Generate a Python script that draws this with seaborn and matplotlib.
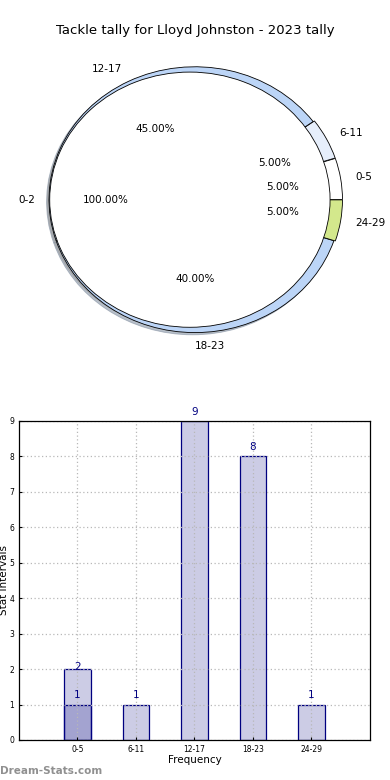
import numpy as np
import pandas as pd
import seaborn as sns
from matplotlib import pyplot as plt

# data
title = "Tackle tally for Lloyd Johnston - 2023 tally"
categories = ["0-5", "6-11", "12-17", "18-23", "24-29"]
counts = [1, 1, 9, 8, 1]
wedge_colors = ["#ffffff", "#e6eefb", "#bcd5f7", "#bcd5f7", "#d3e88c"]
inner_labels = ["0-2"]
inner_counts = [1]
overlay_categories = ["0-5"]
overlay_counts = [2]

plt.rcParams["font.family"] = ["DejaVu Sans"]

fig = plt.figure(figsize=(3.9, 7.8), dpi=100)

# ---- pie (outer ring + exploded inner disc) ----
ax1 = fig.add_axes([0.032, 0.531, 0.936, 0.426])
wedges, _, _ = ax1.pie(
    counts, labels=categories, colors=wedge_colors, autopct="%.2f%%",
    pctdistance=0.6, labeldistance=1.1, startangle=0,
    shadow={"ox": -0.012, "oy": -0.012, "shade": 0.4},
    explode=[0.01, 0.01, 0, 0, 0.01],
    wedgeprops={"edgecolor": "black", "linewidth": 0.6},
    textprops={"fontsize": 7.5},
)
ax1.pie(
    inner_counts, labels=inner_labels, colors=["white"], autopct="%.2f%%",
    pctdistance=0.6, labeldistance=1.1, radius=0.96, explode=[0.035],
    shadow={"ox": -0.012, "oy": -0.012, "shade": 0.4},
    wedgeprops={"edgecolor": "black", "linewidth": 0.6},
    textprops={"fontsize": 7.5},
)
ax1.set_aspect("auto")
ax1.set_xlim(-1.25, 1.25)
ax1.set_ylim(-1.25, 1.25)
fig.text(0.5, 0.9615, title, ha="center", va="center", fontsize=9.5)

# ---- bars ----
ax2 = fig.add_axes([0.0487, 0.0513, 0.9, 0.409])
df = pd.DataFrame({"cat": categories, "n": counts})
df2 = pd.DataFrame({"cat": overlay_categories, "n": overlay_counts})
sns.barplot(data=df, x="cat", y="n", order=categories, width=0.45,
            color="navy", linewidth=0.9, saturation=1, ax=ax2)
sns.barplot(data=df2, x="cat", y="n", order=categories, width=0.45,
            color="navy", linewidth=0.9, saturation=1, ax=ax2)
# translucent fill, opaque edge
for p in ax2.patches:
    p.set_alpha(None)
    p.set_facecolor((0, 0, 0.5, 0.2))
    p.set_edgecolor((0, 0, 0.5, 1))

for c, v in zip(categories, counts):
    ax2.annotate(str(v), (categories.index(c), v), xytext=(0, 3),
                 textcoords="offset points", ha="center", va="bottom",
                 fontsize=7.5, color="navy")
for c, v in zip(overlay_categories, overlay_counts):
    ax2.annotate(str(v), (categories.index(c), v), xytext=(0, 1.5),
                 textcoords="offset points", ha="center", va="center",
                 fontsize=7.5, color="navy")

ax2.set_xlim(-1, 5)
ax2.set_ylim(0, 9)
ax2.set_yticks(range(10))
ax2.set_axisbelow(False)
ax2.grid(True, color="#b8b8b8", linestyle=(0, (1, 2)), linewidth=0.9)
ax2.tick_params(labelsize=5.5, length=2, direction="in")
ax2.set_xlabel("Frequency", fontsize=7.5, labelpad=1)
ax2.set_ylabel("Stat Intervals", fontsize=7.5, labelpad=0)
for s in ax2.spines.values():
    s.set_linewidth(0.9)
    s.set_zorder(5)

fig.text(0.0, 0.012, "Dream-Stats.com", fontsize=7.5, color="#909090",
         fontweight="bold", ha="left", va="center")

fig.savefig("out.png", dpi=100)
